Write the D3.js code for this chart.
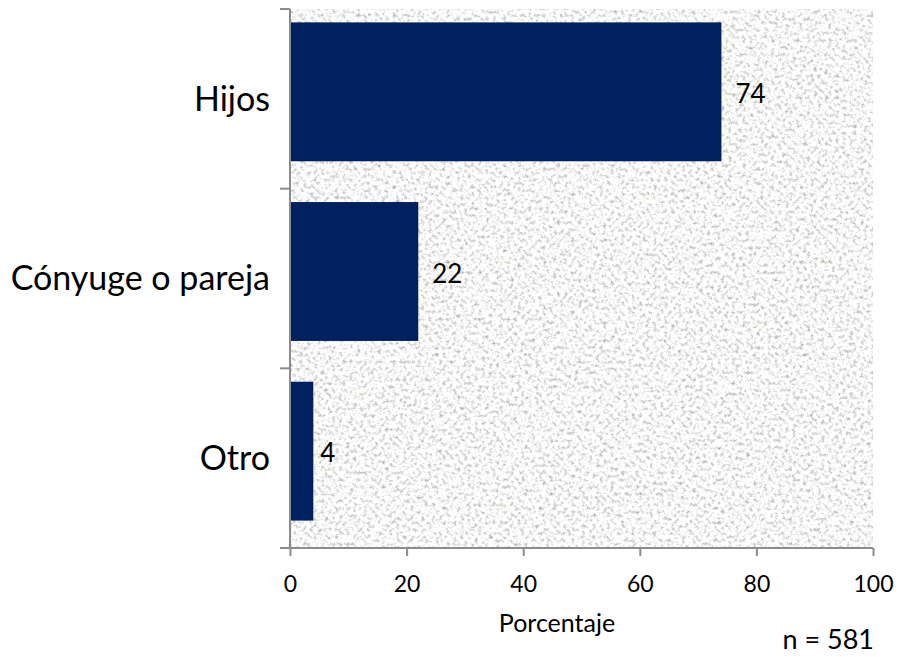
<!DOCTYPE html>
<html>
<head>
<meta charset="utf-8">
<script src="https://cdn.jsdelivr.net/npm/d3@7"></script>
<style>
  body { margin: 0; background: #fff; }
  svg { display: block; font-family: Lato, "Open Sans", sans-serif; }
</style>
</head>
<body>
<div id="chart"></div>
<script>
const categories = ["Hijos", "Cónyuge o pareja", "Otro"];
const values = [74, 22, 4];
const xTicks = [0, 20, 40, 60, 80, 100];
const xTitle = "Porcentaje";
const note = "n = 581";

const width = 903, height = 657;
const margin = { top: 9, right: 30, bottom: 109, left: 290 };
const barShift = 7; // bars sit a little above the band centre

const svg = d3.select("#chart").append("svg")
    .attr("width", width)
    .attr("height", height);

// granite-like backdrop for the plot area
const defs = svg.append("defs");
const filter = defs.append("filter").attr("id", "granite")
    .attr("x", 0).attr("y", 0).attr("width", 1).attr("height", 1);
filter.append("feTurbulence")
    .attr("type", "fractalNoise")
    .attr("baseFrequency", 0.28)
    .attr("numOctaves", 4)
    .attr("seed", 7)
    .attr("result", "noise");
filter.append("feColorMatrix")
    .attr("in", "noise")
    .attr("type", "matrix")
    .attr("values", "1.4 0 0 0 0.24  1.4 0 0 0 0.24  1.4 0 0 0 0.23  0 0 0 0 1");

const x = d3.scaleLinear()
    .domain([0, 100])
    .range([margin.left, width - margin.right]);

// band scale for the axis / labels
const y = d3.scaleBand()
    .domain(categories)
    .range([margin.top, height - margin.bottom])
    .paddingInner(0.227)
    .paddingOuter(0.1135);

// same bands, nudged up, for the bars
const yBar = y.copy()
    .range([margin.top - barShift, height - margin.bottom - barShift]);

svg.append("rect")
    .attr("x", x(0))
    .attr("y", margin.top)
    .attr("width", x(100) - x(0))
    .attr("height", height - margin.bottom - margin.top)
    .attr("filter", "url(#granite)");

// bars
svg.selectAll(".bar")
    .data(values)
    .join("rect")
    .attr("class", "bar")
    .attr("x", x(0))
    .attr("y", (d, i) => yBar(categories[i]))
    .attr("width", d => x(d) - x(0))
    .attr("height", yBar.bandwidth())
    .attr("fill", "#00205f");

// value labels
svg.selectAll(".val")
    .data(values)
    .join("text")
    .attr("class", "val")
    .attr("x", d => x(d) + (d < 10 ? 7 : 14))
    .attr("y", (d, i) => yBar(categories[i]) + yBar.bandwidth() / 2 + 2)
    .attr("dy", "0.35em")
    .attr("font-size", 26)
    .attr("fill", "#000")
    .text(d => d);

// axes
const axisColor = "#8c8c8c";
const bottomY = height - margin.bottom;

const xAxis = svg.append("g")
    .attr("transform", "translate(0," + bottomY + ")")
    .call(d3.axisBottom(x).tickValues(xTicks).tickSize(8).tickSizeOuter(0).tickPadding(20));
xAxis.select(".domain").attr("stroke", axisColor).attr("stroke-width", 2)
    .attr("d", "M" + (x(0) - 10) + ",0H" + x(100));
xAxis.selectAll(".tick line").attr("stroke", axisColor).attr("stroke-width", 2);
xAxis.selectAll(".tick text").attr("font-size", 23).attr("fill", "#000")
    .attr("font-family", "Lato, 'Open Sans', sans-serif");

// left axis: ticks sit on the band boundaries
const yBounds = d3.range(categories.length + 1).map(i => margin.top + i * y.step());
const yAxis = svg.append("g");
yAxis.append("line")
    .attr("x1", x(0)).attr("x2", x(0))
    .attr("y1", margin.top).attr("y2", bottomY)
    .attr("stroke", axisColor).attr("stroke-width", 2);
yAxis.selectAll(".ytick")
    .data(yBounds)
    .join("line")
    .attr("x1", x(0) - 10).attr("x2", x(0))
    .attr("y1", d => d).attr("y2", d => d)
    .attr("stroke", axisColor).attr("stroke-width", 2);

svg.selectAll(".cat")
    .data(categories)
    .join("text")
    .attr("class", "cat")
    .attr("x", x(0) - 20)
    .attr("y", d => y(d) + y.bandwidth() / 2)
    .attr("dy", "0.35em")
    .attr("text-anchor", "end")
    .attr("font-size", 34)
    .attr("fill", "#000")
    .text(d => d);

svg.append("text")
    .attr("x", 557)
    .attr("y", 632)
    .attr("text-anchor", "middle")
    .attr("font-size", 25)
    .text(xTitle);

svg.append("text")
    .attr("x", 874)
    .attr("y", 649)
    .attr("text-anchor", "end")
    .attr("font-size", 27)
    .text(note);
</script>
</body>
</html>
